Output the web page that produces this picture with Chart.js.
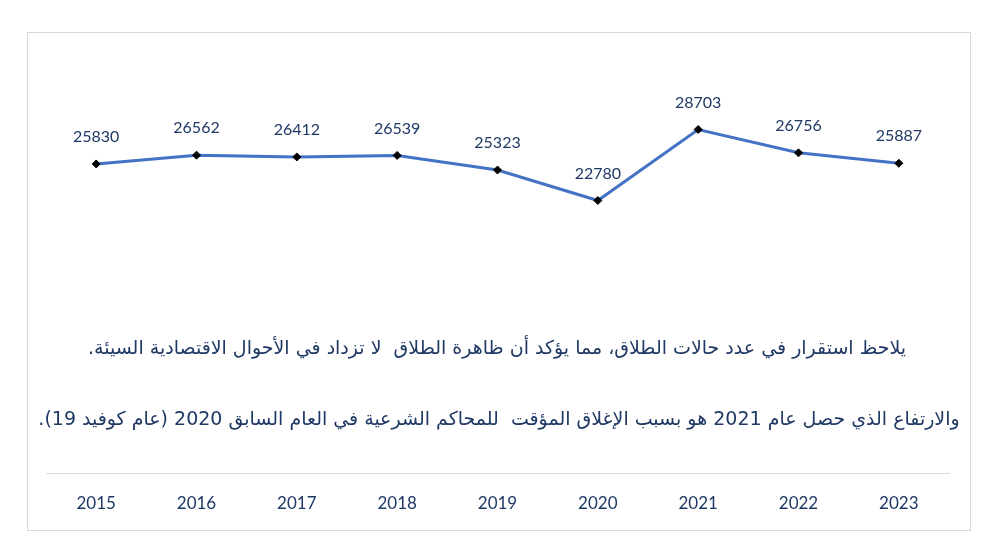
<!DOCTYPE html>
<html>
<head>
<meta charset="utf-8">
<script src="https://cdn.jsdelivr.net/npm/chart.js@4/dist/chart.umd.min.js"></script>
<style>
  html, body { margin: 0; padding: 0; background: #fff; }
  canvas { display: block; }
</style>
</head>
<body>
<canvas id="myChart" width="994" height="559"></canvas>
<script>
const years = ["2015", "2016", "2017", "2018", "2019", "2020", "2021", "2022", "2023"];
const divorceCases = [25830, 26562, 26412, 26539, 25323, 22780, 28703, 26756, 25887];
const noteLines = [
  "يلاحظ استقرار في عدد حالات الطلاق، مما يؤكد أن ظاهرة الطلاق  لا تزداد في الأحوال الاقتصادية السيئة.",
  "والارتفاع الذي حصل عام 2021 هو بسبب الإغلاق المؤقت  للمحاكم الشرعية في العام السابق 2020 (عام كوفيد 19)."
];

const navy = "#1f3864";

// outer frame + notes + value labels
const extras = {
  id: "extras",
  beforeDraw(chart) {
    const ctx = chart.ctx;
    ctx.save();
    ctx.strokeStyle = "#d9d9d9";
    ctx.lineWidth = 1;
    ctx.strokeRect(27.5, 32.5, 943, 498);
    ctx.restore();
  },
  afterDatasetsDraw(chart) {
    const ctx = chart.ctx;
    const meta = chart.getDatasetMeta(0);
    ctx.save();
    ctx.fillStyle = navy;
    ctx.font = "16px Lato";
    ctx.textAlign = "center";
    ctx.textBaseline = "middle";
    meta.data.forEach((pt, i) => {
      ctx.fillText(String(chart.data.datasets[0].data[i]), pt.x, pt.y - 27);
    });

    ctx.font = "19px 'DejaVu Sans'";
    ctx.direction = "rtl";
    ctx.textAlign = "center";
    ctx.fillText(noteLines[0], 497, 349);
    ctx.fillText(noteLines[1], 499, 420);
    ctx.restore();
  }
};

new Chart(document.getElementById("myChart"), {
  type: "line",
  data: {
    labels: years,
    datasets: [{
      data: divorceCases,
      borderColor: "#4472c4",
      borderWidth: 3,
      lineTension: 0,
      pointStyle: "rectRot",
      pointRadius: 4,
      pointBackgroundColor: "#000",
      pointBorderColor: "#000",
      pointBorderWidth: 1
    }]
  },
  options: {
    responsive: false,
    animation: false,
    layout: { padding: { left: 46, right: 45, top: 54, bottom: 25 } },
    plugins: { legend: { display: false }, tooltip: { enabled: false } },
    scales: {
      y: { display: false, min: 0, max: 35000 },
      x: {
        offset: true,
        grid: { display: false, drawTicks: false },
        border: { display: true, color: "#d9d9d9", width: 1 },
        ticks: { color: navy, font: { family: "Lato", size: 17 }, padding: 20 }
      }
    }
  },
  plugins: [extras]
});
</script>
</body>
</html>
